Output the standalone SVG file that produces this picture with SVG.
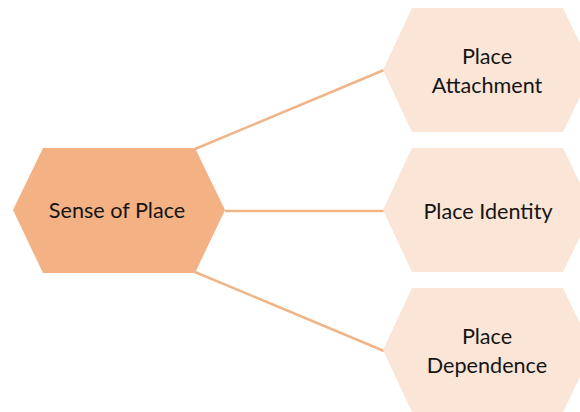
<svg xmlns="http://www.w3.org/2000/svg" width="580" height="412" viewBox="0 0 580 412">
<style>
.main{fill:#F4B183;}
.sub{fill:#FBE5D6;}
.t{font-family:Lato,"Open Sans","Liberation Sans",sans-serif;font-size:21.6px;fill:#151515;text-anchor:middle;}
.c{stroke:#F1B487;stroke-width:2.5;fill:none;}
</style>
<rect width="580" height="412" fill="#ffffff"/>
<g id="connectors">
<line class="c" x1="195" y1="149" x2="384" y2="70"/>
<line class="c" x1="225" y1="211" x2="384" y2="211"/>
<line class="c" x1="195" y1="272" x2="384" y2="351"/>
</g>
<g id="sense-of-place">
<polygon class="main" points="43,148 195,148 225,210 195,273 43,273 13,210"/>
<text class="t" x="117" y="218">Sense of Place</text>
</g>
<g id="place-attachment">
<polygon class="sub" points="412,8 563,8 593,70 563,132 412,132 383,70"/>
<text class="t" x="487" y="64">Place</text>
<text class="t" x="487" y="93">Attachment</text>
</g>
<g id="place-identity">
<polygon class="sub" points="412,148 563,148 593,210 563,272 412,272 383,210"/>
<text class="t" x="488" y="219">Place Identity</text>
</g>
<g id="place-dependence">
<polygon class="sub" points="412,288 563,288 593,350 563,412 412,412 383,350"/>
<text class="t" x="487" y="344">Place</text>
<text class="t" x="487" y="373">Dependence</text>
</g>
</svg>
